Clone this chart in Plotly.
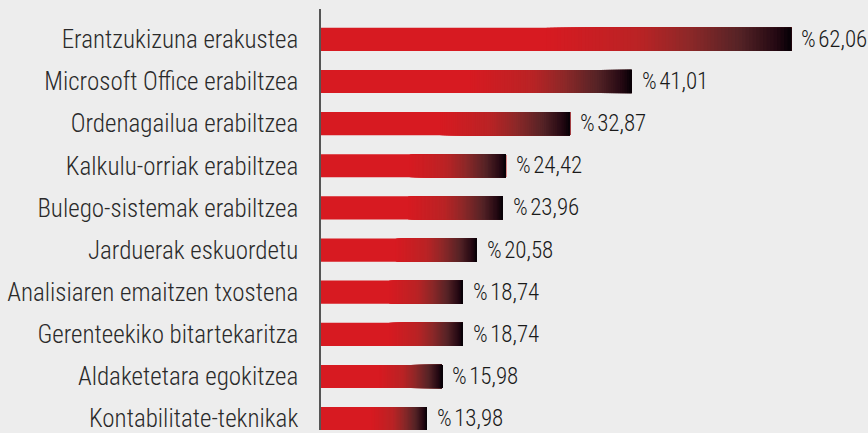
import plotly.graph_objects as go

categories = [
    "Erantzukizuna erakustea",
    "Microsoft Office erabiltzea",
    "Ordenagailua erabiltzea",
    "Kalkulu-orriak erabiltzea",
    "Bulego-sistemak erabiltzea",
    "Jarduerak eskuordetu",
    "Analisiaren emaitzen txostena",
    "Gerenteekiko bitartekaritza",
    "Aldaketetara egokitzea",
    "Kontabilitate-teknikak",
]
values = [62.06, 41.01, 32.87, 24.42, 23.96, 20.58, 18.74, 18.74, 15.98, 13.98]
value_labels = ["%\u200a" + f"{v:.2f}".replace(".", ",") for v in values]

FONT = "Roboto Condensed Light, Roboto Condensed, Liberation Sans Narrow, DejaVu Sans Condensed, Roboto"

# gradient stops (fraction along bar, rgb)
stops = [
    (0.48, (215, 26, 33)),
    (0.68, (185, 35, 37)),
    (0.785, (140, 40, 40)),
    (0.89, (85, 35, 38)),
    (0.97, (35, 8, 18)),
    (1.0, (5, 0, 5)),
]


def color_at(f):
    for (f0, c0), (f1, c1) in zip(stops[:-1], stops[1:]):
        if f <= f1:
            t = (f - f0) / (f1 - f0)
            return "rgb(%d,%d,%d)" % tuple(round(a + (b - a) * t) for a, b in zip(c0, c1))
    return "rgb(%d,%d,%d)" % stops[-1][1]


fig = go.Figure()
fig.add_trace(go.Bar(
    y=categories, x=values, orientation="h",
    marker=dict(color="rgb(215,26,33)", line=dict(width=0)),
    hoverinfo="skip",
))

N = 70
f_start = stops[0][0]
for k in range(N):
    f = f_start + (1 - f_start) * k / N
    fig.add_trace(go.Bar(
        y=categories,
        base=[v * f for v in values],
        x=[v * (1 - f) for v in values],
        orientation="h",
        marker=dict(color=color_at(f + (1 - f_start) / (2 * N)), line=dict(width=0)),
        hoverinfo="skip", showlegend=False,
    ))

for cat, v, lab in zip(categories, values, value_labels):
    fig.add_annotation(
        x=v, y=cat, xref="x", yref="y", text=lab, showarrow=False,
        xanchor="left", yanchor="middle", xshift=8,
        font=dict(family=FONT, size=23, color="#1a1a1a", weight=300),
    )

fig.update_layout(
    width=868, height=433,
    margin=dict(l=321, r=0, t=9, b=0),
    paper_bgcolor="#ededed", plot_bgcolor="#ededed",
    barmode="overlay", bargap=0.45, showlegend=False,
    font=dict(family=FONT, color="#2a2a2a"),
    xaxis=dict(range=[0, 72.2], visible=False, fixedrange=True),
    yaxis=dict(
        type="category", categoryorder="array", categoryarray=categories,
        range=[9.27, -0.72], showgrid=False, zeroline=False, fixedrange=True,
        showline=True, linecolor="#555555", linewidth=1.5,
        ticks="", ticklabelstandoff=16,
        tickfont=dict(family=FONT, size=25, color="#2a2a2a", weight=300),
    ),
)

fig.write_html(
    "out.html",
    config={"displayModeBar": False},
    post_script="document.body.style.margin='0';document.body.style.background='#ededed';",
)
